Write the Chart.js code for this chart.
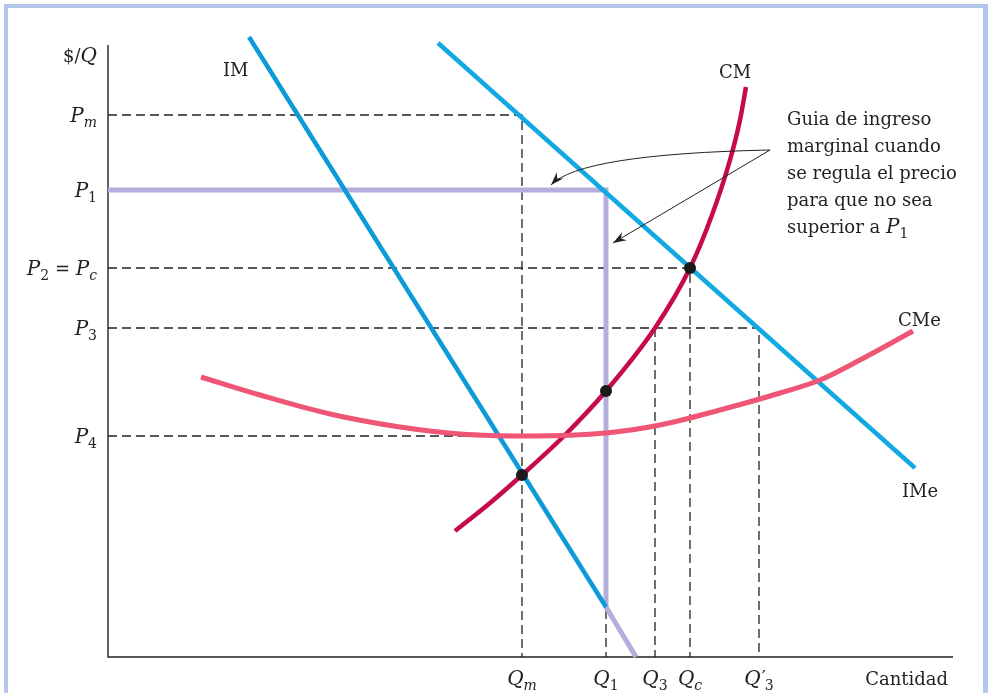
<!DOCTYPE html>
<html>
<head>
<meta charset="utf-8">
<script src="https://cdn.jsdelivr.net/npm/chart.js@4.4.1/dist/chart.umd.min.js"></script>
<style>
html,body{margin:0;padding:0;background:#fff;}
#wrap{width:989px;height:693px;position:relative;}
</style>
</head>
<body>
<div id="wrap"><canvas id="c" width="989" height="693"></canvas></div>
<script>
// ---- data (quantity units on x, price units on y) ----
const qValues = [41.4, 49.8, 54.7, 58.2, 65.1];          // Qm, Q1, Q3, Qc, Q'3
const qLabels = [['Q','m',''], ['Q','1',''], ['Q','3',''], ['Q','c',''], ['Q','3','′']];
const pValues = [54.2, 46.7, 38.9, 32.9, 22.1];          // Pm, P1, P2=Pc, P3, P4
const pLabels = ['Pm', 'P1', 'P2=Pc', 'P3', 'P4'];

const imX = [14.1, 49.8];
const imY = [62.0, 5.0];
const imeX = [33.0, 80.7];
const imeY = [61.4, 18.9];
const regX = [0, 49.8, 49.8, 52.8];
const regY = [46.7, 46.7, 5.0, 0];
const cmX = [34.7, 38.2, 41.4, 45.7, 49.8, 54.7, 58.2, 60.4, 62.2, 63.2, 63.8];
const cmY = [12.6, 15.4, 18.2, 22.2, 26.6, 32.9, 38.9, 44.2, 49.7, 53.7, 57.0];
const cmeX = [9.3, 15.2, 22.2, 29.2, 35.2, 42.2, 49.8, 55.2, 61.2, 67.2, 71.2, 75.2, 80.5];
const cmeY = [28.0, 26.2, 24.3, 23.0, 22.3, 22.1, 22.4, 23.2, 24.7, 26.4, 27.7, 29.7, 32.6];
const dotX = [41.4, 49.8, 58.2];
const dotY = [18.2, 26.6, 38.9];
const xMax = 84.5, yAxisTop = 61.2, yMax = 62.7;
const noteLines = ['Guia de ingreso', 'marginal cuando', 'se regula el precio', 'para que no sea', 'superior a '];

const pts = (xs, ys) => xs.map((x, i) => ({x, y: ys[i]}));

// dashed guide segments
const [Qm, Q1, Q3, Qc, Q3p] = qValues;
const [Pm, P1, P2, P3, P4] = pValues;
const dashSegs = [
  [[0,Pm],[Qm,Pm],[Qm,0]],
  [[Q1,P1],[Q1,0]],
  [[0,P2],[Qc,P2],[Qc,0]],
  [[0,P3],[Q3p,P3],[Q3p,0]],
  [[Q3,P3],[Q3,0]],
  [[0,P4],[Qm,P4]]
];

const datasets = [];
datasets.push({data: pts(dotX, dotY), showLine:false, pointRadius:6, pointBackgroundColor:'#1a1a1a', pointBorderWidth:0, order:0});
datasets.push({data: pts(regX, regY), showLine:true, borderColor:'#b3aedb', borderWidth:5, pointRadius:0, order:3});
datasets.push({data: pts(imX, imY), showLine:true, borderColor:'#0c9bd9', borderWidth:4.5, pointRadius:0, order:2});
datasets.push({data: pts(imeX, imeY), showLine:true, borderColor:'#12a9e2', borderWidth:4.5, pointRadius:0, order:2});
datasets.push({data: pts(cmeX, cmeY), showLine:true, borderColor:'#ef5574', borderWidth:5, pointRadius:0, cubicInterpolationMode:'monotone', order:1});
datasets.push({data: pts(cmX, cmY), showLine:true, borderColor:'#c60a4c', borderWidth:4.5, pointRadius:0, cubicInterpolationMode:'monotone', order:1});
dashSegs.forEach(seg => datasets.push({data: seg.map(p=>({x:p[0],y:p[1]})), showLine:true, borderColor:'#222', borderWidth:1.3, borderDash:[9,5], pointRadius:0, order:5}));
// axes
datasets.push({data:[{x:0,y:yAxisTop},{x:0,y:0},{x:xMax,y:0}], showLine:true, borderColor:'#222', borderWidth:1.4, pointRadius:0, order:4});
datasets.forEach(d => { d.clip = false; d.fill = false; });

const SERIF = '"DejaVu Serif", "Liberation Serif", serif';

function drawParts(ctx, x, y, parts, align) {
  let w = 0;
  parts.forEach(p => { ctx.font = (p[1]==='i'?'italic ':'') + p[2] + 'px ' + SERIF; w += ctx.measureText(p[0]).width + (p[4]||0); });
  let cx = align === 'right' ? x - w : (align === 'center' ? x - w/2 : x);
  ctx.textAlign = 'left';
  ctx.textBaseline = 'alphabetic';
  parts.forEach(p => {
    ctx.font = (p[1]==='i'?'italic ':'') + p[2] + 'px ' + SERIF;
    ctx.fillText(p[0], cx + (p[4]||0), y + (p[3]||0));
    cx += ctx.measureText(p[0]).width + (p[4]||0);
  });
}

const deco = {
  id: 'deco',
  beforeDraw(chart) {
    const ctx = chart.ctx;
    ctx.save();
    ctx.fillStyle = '#fff';
    ctx.fillRect(0,0,chart.width,chart.height);
    ctx.fillStyle = '#b3c5ea';
    ctx.fillRect(4,4,4,700);
    ctx.fillRect(4,4,984,4);
    ctx.fillRect(983,4,5,700);
    ctx.restore();
  },
  afterDatasetsDraw(chart) {
    const ctx = chart.ctx, xs = chart.scales.x, ys = chart.scales.y;
    const X = v => xs.getPixelForValue(v), Y = v => ys.getPixelForValue(v);
    ctx.save();
    ctx.fillStyle = '#231f20';
    const S = 18, s = 14, L = 20;
    const right = 97;
    drawParts(ctx, right, 62, [['$/','n',S],['Q','i',L]], 'right');
    const subMap = {
      'Pm': [['P','i',L],['m','i',s,5]],
      'P1': [['P','i',L],['1','n',s,5]],
      'P2=Pc': [['P','i',L],['2','n',s,5],[' = ','n',S],['P','i',L],['c','i',s,5]],
      'P3': [['P','i',L],['3','n',s,5]],
      'P4': [['P','i',L],['4','n',s,5]]
    };
    pLabels.forEach((lab, i) => drawParts(ctx, right, Y(pValues[i]) + 7, subMap[lab], 'right'));
    qLabels.forEach((q, i) => {
      let parts;
      if (q[2]) parts = [[q[0],'i',L],[q[2],'n',S,-1,1],[q[1],'n',s,5,-1]];
      else parts = [[q[0],'i',L],[q[1], /[a-z]/.test(q[1])?'i':'n', s, 5]];
      drawParts(ctx, X(qValues[i]), 685, parts, 'center');
    });
    ctx.font = S + 'px ' + SERIF;
    ctx.textAlign = 'right';
    ctx.fillText('Cantidad', 948, 685);
    ctx.textAlign = 'left';
    ctx.fillText('IM', 223, 76);
    ctx.fillText('CM', 719, 78);
    ctx.fillText('CMe', 898, 326);
    ctx.fillText('IMe', 902, 497);
    const lh = 27, nx = 787;
    noteLines.forEach((t, i) => {
      if (i === noteLines.length - 1) drawParts(ctx, nx, 125 + i*lh, [[t,'n',S],['P','i',L],['1','n',s,5]], 'left');
      else { ctx.font = S + 'px ' + SERIF; ctx.textAlign='left'; ctx.fillText(t, nx, 125 + i*lh); }
    });
    // arrows
    ctx.strokeStyle = '#222';
    ctx.lineWidth = 1;
    const sx = X(66.2), sy = Y(50.7);
    const cx1 = X(47.2), cy1 = Y(50.3);
    const e1x = X(44.3), e1y = Y(47.2);
    ctx.beginPath();
    ctx.moveTo(sx, sy);
    ctx.quadraticCurveTo(cx1, cy1, e1x, e1y);
    ctx.stroke();
    const e2x = X(50.5), e2y = Y(41.4);
    ctx.beginPath();
    ctx.moveTo(sx, sy);
    ctx.lineTo(e2x, e2y);
    ctx.stroke();
    function head(tx, ty, fx, fy) {
      const a = Math.atan2(ty - fy, tx - fx), L = 14, w = 0.33;
      ctx.fillStyle = '#222';
      ctx.beginPath();
      ctx.moveTo(tx, ty);
      ctx.lineTo(tx - L*Math.cos(a - w), ty - L*Math.sin(a - w));
      ctx.lineTo(tx - 9*Math.cos(a), ty - 9*Math.sin(a));
      ctx.lineTo(tx - L*Math.cos(a + w), ty - L*Math.sin(a + w));
      ctx.closePath();
      ctx.fill();
    }
    head(e1x, e1y, cx1, cy1);
    head(e2x, e2y, sx, sy);
    ctx.restore();
  }
};

new Chart(document.getElementById('c'), {
  type: 'scatter',
  data: { datasets },
  options: {
    responsive: false,
    animation: false,
    events: [],
    layout: { padding: { left: 108, right: 36, top: 30, bottom: 36 } },
    plugins: { legend: { display: false }, tooltip: { enabled: false } },
    scales: {
      x: { type: 'linear', min: 0, max: xMax, display: false },
      y: { type: 'linear', min: 0, max: yMax, display: false }
    }
  },
  plugins: [deco]
});
</script>
</body>
</html>
